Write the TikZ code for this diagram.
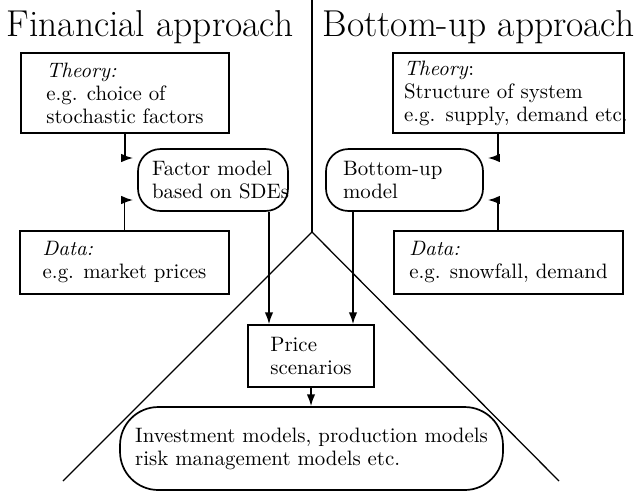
\documentclass[tikz,border=0pt]{standalone}
\usetikzlibrary{calc,arrows.meta}
\begin{document}
\begin{tikzpicture}[x=0.47pt,y=-0.47pt,
  >={Latex[length=5.6pt,width=4pt]},
  title/.style={font=\fontsize{17.6}{20}\selectfont, inner sep=0pt},
  box/.style 2 args={draw, line width=0.8pt, font=\fontsize{9.8}{10.8}\selectfont,
    align=left, inner sep=0pt, minimum width=#1, minimum height=#2},
  model/.style 2 args={box={#1}{#2}, rounded corners=10.5pt},
  arr/.style={->, line width=0.75pt}
]
\useasboundingbox (0,0) rectangle (637,492);

% the two sides and the cone below
\coordinate (top) at (312,0);
\coordinate (apex) at (312,232);
\coordinate (baseL) at (63,481);
\coordinate (baseR) at (559,481);
\draw[line width=0.6pt] (top) -- (apex);
\draw[line width=0.6pt] (baseL) -- (apex) -- (baseR);

\node[title, anchor=base] (finTitle) at (150,36) {Financial approach};
\node[title, anchor=base] (buTitle) at (478.5,36) {Bottom-up approach};

% financial side
\node[box={97.8pt}{37.6pt}] (theoryFin) at (125,93)
  {\textit{Theory:}\\e.g. choice of\\stochastic factors};
\node[box={98.2pt}{29.6pt}] (dataFin) at (124.5,262.5)
  {\textit{Data:}\\e.g. market prices};
\node[model={70.5pt}{29.1pt}, text width=57.3pt] (factor) at (213,180)
  {\mbox{Factor model}\\\mbox{based on SDEs}};

% bottom-up side
\node[box={108.6pt}{37.6pt}, text width=98.2pt] (theoryBu) at (508.5,93)
  {\textit{Theory}:\\\mbox{Structure of system}\\\mbox{e.g. supply, demand etc.}};
\node[box={107.6pt}{29.6pt}] (dataBu) at (508.5,262.5)
  {\textit{Data:}\\e.g. snowfall, demand};
\node[model={73.8pt}{29.1pt}, text width=57.8pt] (buModel) at (404.5,180)
  {\mbox{Bottom-up}\\model};

\node[box={59.2pt}{29.1pt}] (price) at (311,356)
  {Price\\scenarios};
\node[model={180pt}{39pt}, rounded corners=18pt] (uses) at (311.5,448.5)
  {Investment models, production models\\risk management models etc.};

\draw[arr, shorten >=1.9pt] (theoryFin.south) |- ($(factor.west)+(0,-22)$);
\draw[arr, shorten >=1.9pt] (dataFin.north) |- ($(factor.west)+(0,20)$);
\draw[arr, shorten >=1.9pt] ($(theoryBu.south)+(-10.5,0)$) |- ($(buModel.east)+(0,-22)$);
\draw[arr, shorten >=1.9pt] ($(dataBu.north)+(-10.5,0)$) |- ($(buModel.east)+(0,20)$);

\draw[arr] ($(factor.south)+(56,0)$) -- ($(price.north)+(-42,0)$);
\draw[arr] ($(buModel.south)+(-51.5,0)$) -- ($(price.north)+(42,0)$);
\draw[arr] (price.south) -- (price.south |- uses.north);
\end{tikzpicture}
\end{document}
